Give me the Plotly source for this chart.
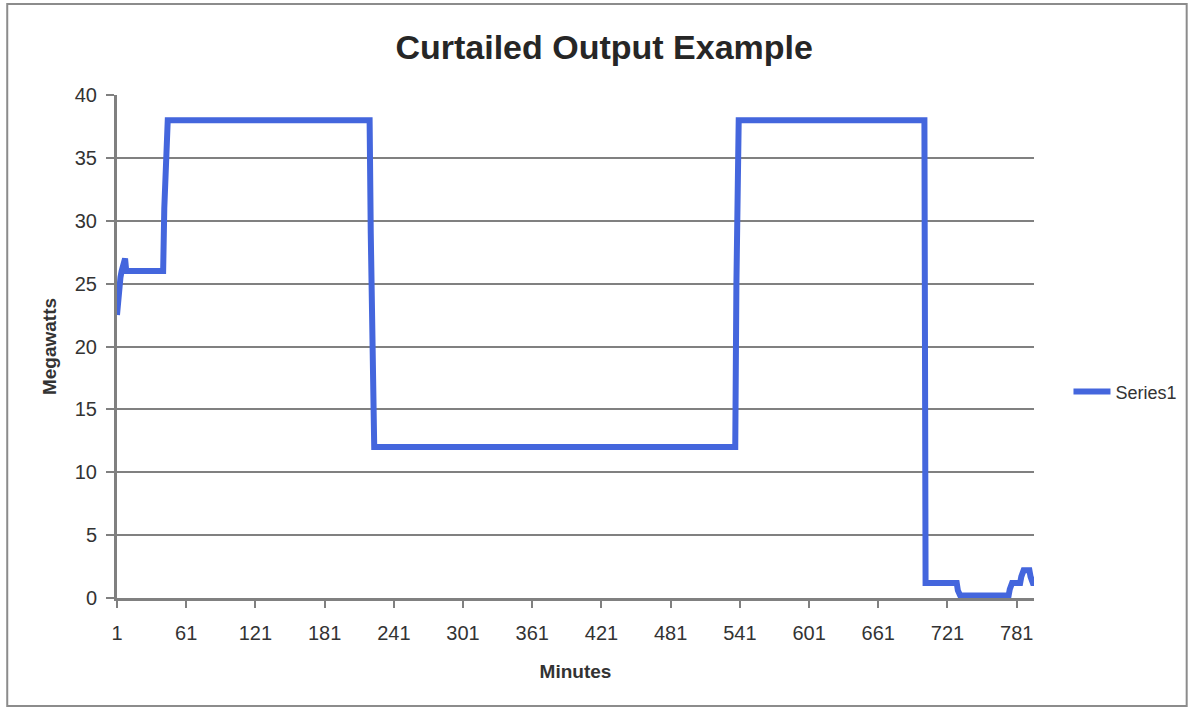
import plotly.graph_objects as go

# Output level in megawatts, stored as runs of equal one-minute readings
run_values = [22.5, 24, 25.5, 26, 26.5, 27, 26, 31, 35, 37, 38, 29, 20, 12, 25, 38,
              1.2, 0.6, 0.2, 0.7, 1.2, 1.7, 2.2, 1.7, 1.2]
run_lengths = [1, 1, 2, 1, 1, 2, 33, 1, 1, 1, 176, 1, 1, 315, 1, 163,
               28, 1, 44, 1, 9, 1, 7, 1, 3]

x_ticks = [1, 61, 121, 181, 241, 301, 361, 421, 481, 541, 601, 661, 721, 781]
y_ticks = [0, 5, 10, 15, 20, 25, 30, 35, 40]

megawatts = [v for v, n in zip(run_values, run_lengths) for _ in range(n)]
minutes = list(range(1, len(megawatts) + 1))

FONT = "Arial, Liberation Sans, sans-serif"
GRID = "#808080"
TEXT = "#333333"

fig = go.Figure()
fig.add_trace(go.Scatter(
    x=minutes, y=megawatts, mode="lines", name="Series1",
    line=dict(color="#4466dd", width=6),
))

fig.update_layout(
    width=1194, height=710, autosize=False,
    margin=dict(l=117, r=158, t=95, b=112),
    paper_bgcolor="white", plot_bgcolor="white",
    font=dict(family=FONT, color=TEXT, size=19),
    title=dict(
        text="<b>Curtailed Output Example</b>",
        font=dict(family=FONT, size=34, color="#262626"),
        x=0.506, xref="container", xanchor="center",
        y=0.934, yref="container", yanchor="middle",
    ),
    showlegend=True,
    legend=dict(
        x=1.0376, xanchor="left", y=0.41, yanchor="middle",
        itemwidth=37,
        font=dict(family=FONT, size=18, color=TEXT),
        bgcolor="rgba(0,0,0,0)",
    ),
    xaxis=dict(
        range=[1, len(megawatts)],
        tickmode="array", tickvals=x_ticks, ticktext=[str(t) for t in x_ticks],
        ticks="outside", ticklen=7, tickwidth=2, tickcolor=GRID,
        ticklabelstandoff=8,
        showline=True, linecolor=GRID, linewidth=3,
        showgrid=False, zeroline=False,
        tickfont=dict(family=FONT, size=20, color=TEXT),
        title=dict(text="<b>Minutes</b>", font=dict(family=FONT, size=19, color=TEXT),
                   standoff=22),
    ),
    yaxis=dict(
        range=[0, 40],
        tickmode="array", tickvals=y_ticks,
        ticks="outside", ticklen=8, tickwidth=2, tickcolor=GRID,
        ticklabelstandoff=5,
        showline=True, linecolor=GRID, linewidth=3,
        showgrid=True, gridcolor=GRID, gridwidth=2,
        zeroline=False,
        tickfont=dict(family=FONT, size=20, color=TEXT),
        title=dict(text="<b>Megawatts</b>", font=dict(family=FONT, size=19, color=TEXT),
                   standoff=14),
    ),
    shapes=[dict(
        type="rect", xref="paper", yref="paper",
        x0=-0.1197, x1=1.1665, y0=-0.2147, y1=1.181,
        line=dict(color="#8c8c8c", width=2), fillcolor="rgba(0,0,0,0)", layer="below",
    )],
)

fig.write_html("out.html")
